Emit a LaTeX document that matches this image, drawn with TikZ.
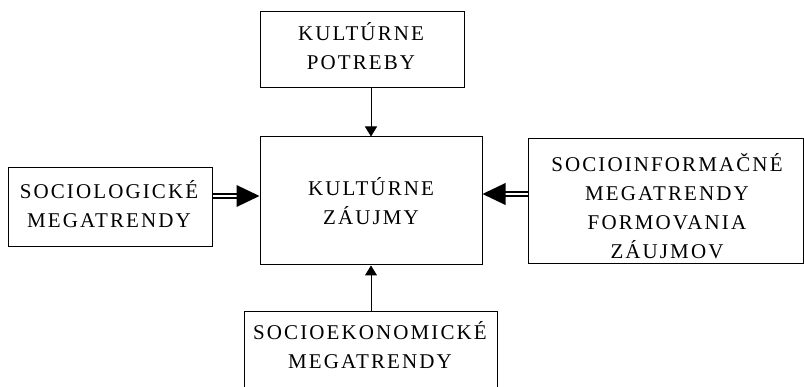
\documentclass[tikz,border=0pt]{standalone}
\usepackage{fontspec}
\setmainfont{Liberation Serif}[LetterSpace=10]
\usetikzlibrary{arrows.meta}
\tikzset{
  box/.style={draw=black, line width=1pt, rectangle, inner sep=0pt},
  txt/.style={inner sep=0pt, align=center, font=\fontsize{21}{29}\selectfont},
  conn/.style={draw=black, line width=1pt, -{Triangle[length=10pt,width=12pt]}},
  dbl/.style={draw=black, double=white, double distance=2.6pt, line width=1.3pt},
  headfill/.style={fill=black}
}
\begin{document}
\begin{tikzpicture}[x=1pt,y=-1pt]
\useasboundingbox (0,0) rectangle (804,387);
\clip (0,0) rectangle (804,387);
% boxes
\node[box, minimum width=204pt, minimum height=76pt] (top) at (362,50) {};
\node[box, minimum width=222pt, minimum height=128pt] (center) at (371,201) {};
\node[box, minimum width=204pt, minimum height=79pt] (left) at (110,207.5) {};
\node[box, minimum width=275pt, minimum height=125pt] (right) at (665.5,200.8) {};
\node[box, minimum width=253pt, minimum height=90pt] (bot) at (370.5,357) {};
% texts
\node[txt] (topT) at (361,46) {KULTÚRNE\\POTREBY};
\node[txt] (centerT) at (371,201.5) {KULTÚRNE\\ZÁUJMY};
\node[txt] (leftT) at (109,204) {SOCIOLOGICKÉ\\MEGATRENDY};
\node[txt] (rightT) at (667,206) {SOCIOINFORMAČNÉ\\MEGATRENDY\\FORMOVANIA\\ZÁUJMOV};
\node[txt] (botT) at (370,345) {SOCIOEKONOMICKÉ\\MEGATRENDY};
\coordinate (ly) at (0,196);
\coordinate (ry) at (0,194);
% single arrows
\draw[conn] (center.north |- top.south) -- (center.north);
\draw[conn] (center.south |- bot.north) -- (center.south);
% double arrows
\draw[dbl, shorten >=20pt] (left.east |- ly) -- (center.west |- ly);
\fill[headfill] (center.west |- ly) -- ++(-23,-11) -- ++(0,22) -- cycle;
\draw[dbl, shorten >=20pt] (right.west |- ry) -- (center.east |- ry);
\fill[headfill] (center.east |- ry) -- ++(23,-11) -- ++(0,22) -- cycle;
\end{tikzpicture}
\end{document}
